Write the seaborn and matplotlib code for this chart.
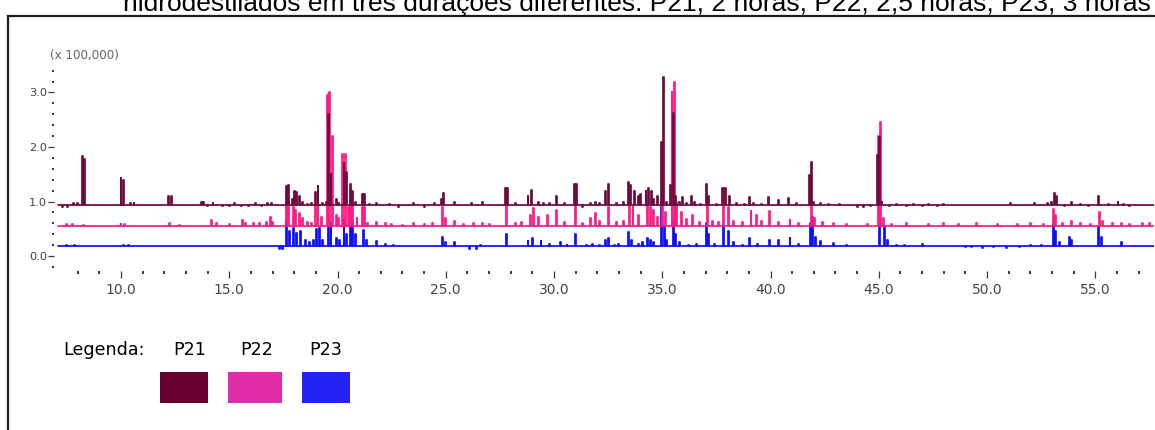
import numpy as np
import pandas as pd
import matplotlib
matplotlib.use("Agg")
import matplotlib.pyplot as plt
from matplotlib.ticker import FixedLocator, FormatStrFormatter
from matplotlib.patches import Rectangle
from matplotlib.lines import Line2D
import seaborn as sns

# ---------------------------------------------------------------------------
# Chromatogram data: retention time (min) and signal (x 100,000) at each
# feature of the three traces, plus the baseline level of each trace.
# ---------------------------------------------------------------------------
samples = ["P21", "P22", "P23"]
run_start, run_end = 7.1, 57.7

p21_base = 0.94
p21_rt = [7.3, 7.55, 7.8, 8.0, 8.2, 8.3, 10.0, 10.1, 10.45, 10.6, 12.2, 12.35,
          13.7, 13.8, 14.0, 14.25, 14.7, 15.0, 15.25, 15.55, 15.9, 16.2, 16.5,
          16.75, 16.95, 17.65, 17.75, 17.9, 18.0, 18.1, 18.25, 18.4, 18.6, 18.8,
          19.0, 19.1, 19.3, 19.5, 19.6, 19.7, 19.95, 20.05, 20.3, 20.4, 20.6,
          20.7, 20.85, 21.15, 21.25, 21.5, 21.8, 22.4, 22.8, 23.5, 24.0, 24.5,
          24.8, 24.9, 25.4, 26.2, 26.7, 27.75, 27.85, 28.2, 28.8, 28.95, 29.3,
          29.5, 29.8, 30.1, 30.5, 30.95, 31.05, 31.3, 31.7, 31.9, 32.1, 32.4,
          32.5, 32.9, 33.2, 33.45, 33.55, 33.7, 33.9, 34.0, 34.25, 34.35, 34.5,
          34.6, 34.8, 34.95, 35.05, 35.2, 35.4, 35.5, 35.6, 35.8, 35.95, 36.1,
          36.35, 36.5, 36.75, 37.05, 37.15, 37.5, 37.8, 37.9, 38.1, 38.45, 38.8,
          39.05, 39.2, 39.6, 39.9, 40.35, 40.85, 41.2, 41.8, 41.9, 42.0, 42.3,
          42.7, 43.2, 44.0, 44.3, 44.6, 44.95, 45.05, 45.15, 45.5, 45.8, 46.3,
          46.6, 47.0, 47.3, 47.7, 48.0, 51.1, 52.2, 52.8, 53.0, 53.1, 53.2, 53.6,
          53.9, 54.3, 54.7, 55.15, 55.6, 56.05, 56.3, 56.6]
p21_top = [0.90, 0.90, 0.98, 0.98, 1.83, 1.78, 1.43, 1.40, 0.98, 0.97, 1.10, 1.10,
           1.00, 0.99, 0.91, 0.97, 0.91, 0.92, 0.97, 0.91, 0.92, 0.97, 0.91,
           0.98, 0.97, 1.28, 1.30, 1.05, 1.20, 1.17, 1.10, 1.00, 0.96, 0.97,
           1.18, 1.28, 0.98, 1.00, 2.60, 1.50, 1.05, 0.98, 1.70, 1.55, 1.32,
           1.20, 1.00, 1.14, 1.14, 0.96, 0.97, 0.96, 0.90, 0.97, 0.90, 0.97,
           1.05, 1.15, 1.00, 0.97, 1.00, 1.25, 1.25, 0.97, 1.10, 1.21, 1.00,
           0.97, 0.97, 1.10, 0.97, 1.32, 1.32, 0.90, 0.97, 1.00, 0.97, 1.20,
           1.32, 0.97, 1.00, 1.36, 1.30, 1.20, 1.10, 1.14, 1.20, 1.25, 1.20,
           1.05, 1.10, 2.10, 3.28, 1.00, 1.30, 2.62, 1.10, 1.00, 1.08, 0.98,
           1.10, 1.00, 0.95, 1.32, 1.10, 0.95, 1.25, 1.25, 1.10, 0.97, 0.96,
           1.08, 0.98, 0.96, 1.08, 1.03, 1.06, 0.97, 1.48, 1.73, 1.00, 0.97,
           0.95, 0.96, 0.90, 0.90, 0.91, 1.85, 2.18, 1.00, 0.92, 0.96, 0.91,
           0.96, 0.92, 0.96, 0.92, 0.96, 0.97, 0.97, 0.98, 1.00, 1.15, 1.10, 0.92,
           1.00, 0.96, 0.92, 1.10, 0.96, 1.00, 0.96, 0.92]

p22_base = 0.55
p22_rt = [7.5, 7.75, 8.25, 10.0, 10.15, 12.25, 12.7, 14.2, 14.4, 15.0, 15.6, 15.75,
          16.1, 16.4, 16.7, 16.9, 17.0, 17.65, 17.75, 17.95, 18.05, 18.25, 18.4,
          18.6, 18.8, 19.0, 19.1, 19.25, 19.55, 19.65, 19.75, 19.95, 20.05, 20.25,
          20.35, 20.5, 20.6, 20.7, 20.9, 21.15, 21.25, 21.4, 21.8, 22.2, 22.5,
          23.0, 23.5, 24.0, 24.4, 24.85, 25.0, 25.4, 25.8, 26.3, 26.7, 27.0, 27.8,
          28.2, 28.5, 28.9, 29.05, 29.3, 29.7, 30.1, 30.5, 31.0, 31.3, 31.7, 31.9,
          32.1, 32.5, 32.9, 33.2, 33.5, 33.65, 33.9, 34.3, 34.45, 34.6, 34.8,
          35.0, 35.15, 35.45, 35.55, 35.65, 35.9, 36.1, 36.4, 36.7, 37.1, 37.3,
          37.6, 37.85, 38.05, 38.3, 38.7, 39.1, 39.35, 39.6, 39.95, 40.35, 40.9,
          41.3, 41.9, 42.05, 42.4, 42.9, 43.5, 44.5, 45.0, 45.08, 45.2, 45.6,
          46.3, 47.3, 48.0, 48.7, 49.5, 50.5, 51.4, 52.0, 52.6, 53.05, 53.15,
          53.5, 53.9, 54.3, 54.8, 55.2, 55.35, 55.8, 56.2, 56.6, 57.2, 57.5]
p22_top = [0.58, 0.58, 0.57, 0.58, 0.58, 0.60, 0.57, 0.66, 0.60, 0.58, 0.66, 0.60,
           0.60, 0.60, 0.62, 0.72, 0.63, 0.98, 1.00, 0.90, 0.85, 0.78, 0.70,
           0.62, 0.60, 0.95, 1.25, 0.72, 2.95, 3.00, 2.20, 0.75, 0.70, 1.87,
           1.87, 0.90, 1.07, 0.95, 0.70, 0.90, 0.90, 0.60, 0.63, 0.60, 0.58,
           0.57, 0.60, 0.58, 0.60, 0.90, 0.70, 0.65, 0.58, 0.60, 0.60, 0.58, 1.18,
           0.60, 0.62, 0.75, 0.88, 0.72, 0.75, 0.85, 0.62, 1.20, 0.60, 0.70, 0.78,
           0.65, 0.90, 0.62, 0.65, 1.06, 0.90, 0.75, 0.95, 0.90, 0.85, 0.72,
           1.30, 0.80, 3.00, 3.20, 1.00, 0.80, 0.68, 0.75, 0.62, 1.05, 0.65,
           0.62, 1.25, 0.90, 0.65, 0.62, 0.82, 0.75, 0.65, 0.82, 0.63, 0.66,
           0.60, 0.94, 0.70, 0.62, 0.60, 0.58, 0.58, 2.20, 2.46, 0.70, 0.58,
           0.60, 0.58, 0.60, 0.58, 0.60, 0.58, 0.58, 0.60, 0.59, 0.87, 0.75,
           0.60, 0.65, 0.60, 0.58, 0.80, 0.65, 0.60, 0.60, 0.58, 0.60, 0.60]

p23_base = 0.18
p23_rt = [7.5, 7.85, 10.1, 10.35, 14.2, 15.6, 16.9, 17.3, 17.45, 17.65, 17.8, 17.95,
          18.1, 18.3, 18.5, 18.7, 18.9, 19.05, 19.15, 19.3, 19.6, 19.7, 19.95,
          20.1, 20.3, 20.4, 20.6, 20.7, 20.85, 21.2, 21.35, 21.8, 22.2, 22.6,
          23.3, 24.0, 24.85, 25.0, 25.4, 26.1, 26.4, 26.6, 27.8, 28.8, 29.0,
          29.4, 29.8, 30.3, 30.6, 31.0, 31.5, 31.8, 32.1, 32.4, 32.5, 32.8,
          33.0, 33.45, 33.6, 33.9, 34.1, 34.3, 34.45, 34.6, 34.95, 35.1, 35.2,
          35.5, 35.6, 35.8, 36.2, 36.6, 37.05, 37.15, 37.4, 37.85, 38.05, 38.3,
          38.7, 39.05, 39.4, 39.95, 40.35, 40.9, 41.3, 41.85, 41.95, 42.1, 42.3,
          42.9, 43.5, 45.05, 45.25, 45.4, 45.8, 46.2, 46.6, 47.0, 49.0, 49.3,
          49.8, 50.3, 50.9, 51.5, 52.0, 52.5, 53.05, 53.15, 53.35, 53.8, 53.9,
          55.15, 55.3, 56.2, 57.0]
p23_top = [0.20, 0.20, 0.20, 0.20, 0.19, 0.19, 0.18, 0.13, 0.13, 0.66, 0.45, 0.52,
           0.42, 0.45, 0.30, 0.25, 0.30, 0.50, 0.52, 0.30, 0.73, 0.60, 0.33,
           0.30, 0.66, 0.40, 0.67, 0.60, 0.40, 0.48, 0.30, 0.28, 0.22, 0.20,
           0.19, 0.18, 0.35, 0.25, 0.25, 0.13, 0.13, 0.20, 0.40, 0.27, 0.33,
           0.27, 0.22, 0.25, 0.20, 0.40, 0.20, 0.22, 0.20, 0.30, 0.33, 0.20,
           0.22, 0.44, 0.30, 0.22, 0.25, 0.33, 0.30, 0.25, 1.00, 0.55, 0.30,
           0.66, 0.40, 0.25, 0.20, 0.22, 0.60, 0.40, 0.22, 0.57, 0.45, 0.25,
           0.20, 0.33, 0.22, 0.30, 0.30, 0.33, 0.22, 0.60, 0.72, 0.35, 0.28,
           0.23, 0.20, 0.85, 0.55, 0.30, 0.20, 0.20, 0.19, 0.22, 0.16, 0.17,
           0.15, 0.17, 0.15, 0.17, 0.20, 0.20, 0.60, 0.45, 0.25, 0.35, 0.30,
           0.55, 0.35, 0.25, 0.19]

x_major = [10.0, 15.0, 20.0, 25.0, 30.0, 35.0, 40.0, 45.0, 50.0, 55.0]
y_major = [0.0, 1.0, 2.0, 3.0]

title = ("hidrodestilados em três durações diferentes: "
         "P21, 2 horas; P22, 2,5 horas; P23, 3 horas")

# ---------------------------------------------------------------------------
# Styling
# ---------------------------------------------------------------------------
trace_colors = {"P21": "#6e0a3e", "P22": "#ff1a85", "P23": "#0d0dff"}
swatch_colors = {"P21": "#660033", "P22": "#e12ca8", "P23": "#2222f2"}
HALF_W = 0.022   # drawn half-width of each sampled feature (min)

sns.set_style("white")
plt.rcParams["font.family"] = ["DejaVu Sans"]


def trace_points(rt, top, base):
    """Stepped polyline through the features of one chromatogram."""
    rt = np.asarray(rt, float)
    top = np.asarray(top, float)
    order = np.argsort(rt, kind="stable")
    t, y = [run_start], [base]
    for i in order:
        a, b = rt[i] - HALF_W, rt[i] + HALF_W
        t += [a, a, b, b]
        y += [base, top[i], top[i], base]
    t.append(run_end)
    y.append(base)
    return t, y


frames = []
for name, rt, top, base in [("P21", p21_rt, p21_top, p21_base),
                            ("P22", p22_rt, p22_top, p22_base),
                            ("P23", p23_rt, p23_top, p23_base)]:
    t, y = trace_points(rt, top, base)
    frames.append(pd.DataFrame({"tempo": t, "sinal": y, "amostra": name}))
df = pd.concat(frames, ignore_index=True)

# ---------------------------------------------------------------------------
# Figure layout (pixel geometry of a 1155 x 430 canvas)
# ---------------------------------------------------------------------------
W, H = 1155, 430
fig = plt.figure(figsize=(W / 100, H / 100), dpi=100)

px_per_min, px_at_10 = 21.65, 121.0
px_per_unit, px_at_0 = 54.5, 256.0
xlim = (6.9, 57.7)
ylim = (-0.275, 3.45)
left_px = px_at_10 + (xlim[0] - 10) * px_per_min
right_px = px_at_10 + (xlim[1] - 10) * px_per_min
bottom_px = px_at_0 - ylim[0] * px_per_unit
top_px = px_at_0 - ylim[1] * px_per_unit
ax = fig.add_axes([left_px / W, 1 - bottom_px / H,
                   (right_px - left_px) / W, (bottom_px - top_px) / H])
ax.patch.set_alpha(0)

sns.lineplot(data=df, x="tempo", y="sinal", hue="amostra",
             hue_order=["P23", "P22", "P21"], palette=trace_colors,
             estimator=None, sort=False, legend=False, linewidth=1.25,
             ax=ax)

ax.set_xlim(*xlim)
ax.set_ylim(*ylim)
ax.set_xlabel("")
ax.set_ylabel("")
for s in ax.spines.values():
    s.set_visible(False)

ax.xaxis.set_major_locator(FixedLocator(x_major))
ax.xaxis.set_minor_locator(FixedLocator(np.arange(8, 58, 1.0)))
ax.yaxis.set_major_locator(FixedLocator(y_major))
ax.yaxis.set_minor_locator(FixedLocator(np.arange(-0.2, 3.41, 0.2)))
ax.xaxis.set_major_formatter(FormatStrFormatter("%.1f"))
ax.yaxis.set_major_formatter(FormatStrFormatter("%.1f"))

tick_col = "#3a3a3a"
ax.tick_params(which="both", bottom=True, left=True, top=False, right=False)
ax.tick_params(axis="x", which="major", direction="out", length=5.2,
               width=0.9, color=tick_col, labelsize=10, labelcolor="#444444",
               pad=3.5)
ax.tick_params(axis="x", which="minor", direction="out", length=1.8,
               width=1.4, color=tick_col)
ax.tick_params(axis="y", which="major", direction="out", length=4.3,
               width=0.9, color=tick_col, labelsize=8.2, labelcolor="#444444",
               pad=0.5)
ax.tick_params(axis="y", which="minor", direction="out", length=1.6,
               width=1.4, color=tick_col)

# intensity multiplier above the y axis
fig.text(50 / W, 1 - 55 / H, "(x 100,000)", fontsize=8.6, color="#666666",
         ha="left", va="center")

# title line, running off the top of the canvas
fig.text(637 / W, 1 - 11.5 / H, title, fontsize=19, color="black",
         family=["Liberation Sans", "DejaVu Sans"], ha="center",
         va="baseline")

# outer frame (left and top edges)
frame_kw = dict(color="#1c1c1c", linewidth=1.6, transform=fig.transFigure,
                solid_capstyle="projecting")
fig.add_artist(Line2D([8.4 / W, 8.4 / W], [1 - 16 / H, 0], **frame_kw))
fig.add_artist(Line2D([8.4 / W, 1.0], [1 - 16 / H, 1 - 16 / H], **frame_kw))

# legend block
fig.text(63 / W, 1 - 350 / H, "Legenda:", fontsize=12.6, color="black",
         ha="left", va="center")
label_cx = {"P21": 190, "P22": 257, "P23": 326}
swatch_x = {"P21": (160, 208), "P22": (228, 282), "P23": (302, 350)}
for name in samples:
    fig.text(label_cx[name] / W, 1 - 350 / H, name, fontsize=12.6,
             color="black", ha="center", va="center")
    x0, x1 = swatch_x[name]
    fig.add_artist(Rectangle((x0 / W, 1 - 403 / H), (x1 - x0) / W, 31 / H,
                             transform=fig.transFigure,
                             facecolor=swatch_colors[name], edgecolor="none"))

fig.savefig("out.png", dpi=100)
